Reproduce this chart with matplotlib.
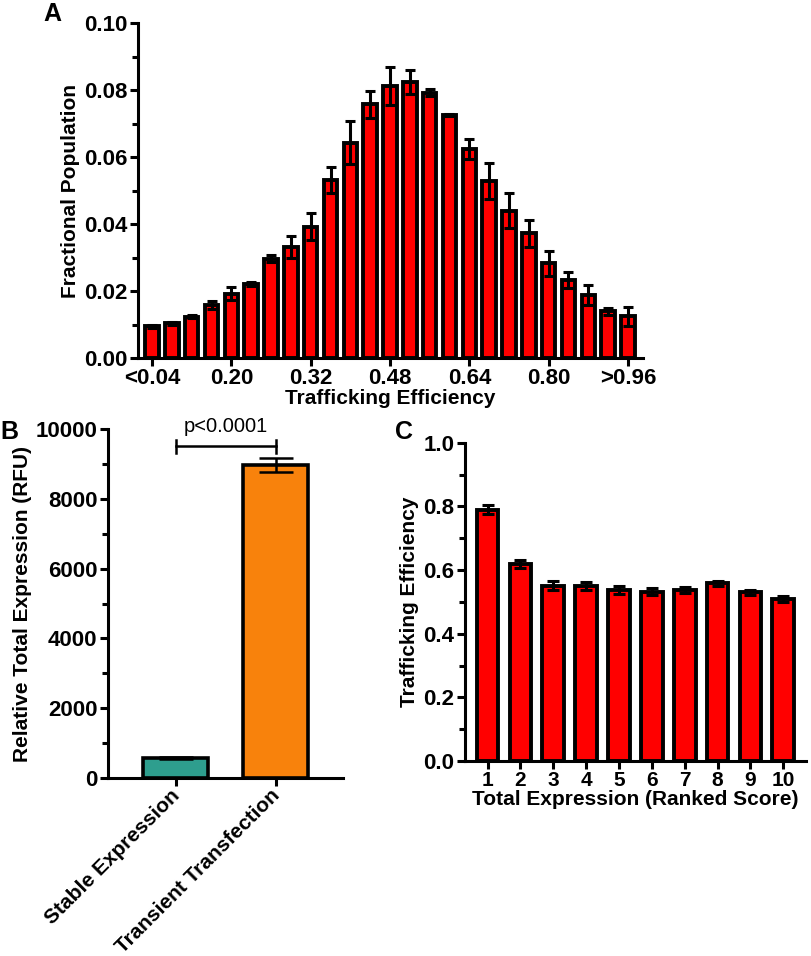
import matplotlib
matplotlib.use("Agg")
import matplotlib.pyplot as plt
import matplotlib.transforms as mtransforms
import numpy as np

plt.rcParams['font.family'] = ['Liberation Sans', 'DejaVu Sans']
plt.rcParams['font.weight'] = 'bold'

# ---- Panel A data ----
a_values = [0.0095, 0.0103, 0.0123, 0.0158, 0.0192, 0.0221, 0.0296, 0.0332, 0.0392,
            0.0531, 0.0643, 0.0757, 0.0812, 0.0823, 0.0792, 0.0725, 0.0624, 0.0528,
            0.0440, 0.0372, 0.0283, 0.0233, 0.0188, 0.0139, 0.0124]
a_errors = [0.0005, 0.0005, 0.0004, 0.0011, 0.0020, 0.0005, 0.0010, 0.0033, 0.0040,
            0.0038, 0.0065, 0.0041, 0.0056, 0.0036, 0.0010, 0.0002, 0.0029, 0.0053,
            0.0052, 0.0040, 0.0037, 0.0024, 0.0031, 0.0010, 0.0029]
a_tick_idx = [0, 4, 8, 12, 16, 20, 24]
a_tick_labels = ['<0.04', '0.20', '0.32', '0.48', '0.64', '0.80', '>0.96']

# ---- Panel B data ----
b_categories = ['Stable Expression', 'Transient Transfection']
b_values = [570, 8980]
b_errors = [30, 210]
b_colors = ['#2E9E8E', '#F8820C']

# ---- Panel C data ----
c_categories = ['1', '2', '3', '4', '5', '6', '7', '8', '9', '10']
c_values = [0.790, 0.618, 0.551, 0.550, 0.538, 0.531, 0.537, 0.558, 0.530, 0.510]
c_errors = [0.014, 0.013, 0.015, 0.013, 0.012, 0.011, 0.010, 0.009, 0.007, 0.009]

W, H = 812, 956
fig = plt.figure(figsize=(W / 100, H / 100), dpi=100)

TICK_FS = 16
LABEL_FS = 15

def ax_at(l, r, b, t):
    return fig.add_axes([l / W, 1 - b / H, (r - l) / W, (b - t) / H])

def style(ax, fs=TICK_FS):
    for s in ['top', 'right']:
        ax.spines[s].set_visible(False)
    for s in ['left', 'bottom']:
        ax.spines[s].set_linewidth(2.2)
    ax.tick_params(axis='both', width=2.2, length=6, labelsize=fs, pad=1.5)
    ax.tick_params(axis='y', which='minor', width=2.2, length=4)
    for lab in ax.get_xticklabels() + ax.get_yticklabels():
        lab.set_fontweight('bold')

# ---- Panel A ----
axA = ax_at(138, 643, 358, 23)
xa = np.arange(len(a_values))
axA.bar(xa, a_values, width=0.68, color='#FF0000', edgecolor='black', linewidth=2.8,
        yerr=a_errors, error_kw=dict(ecolor='black', elinewidth=2.2, capsize=3.5, capthick=2.2))
axA.set_xlim(-0.71, 24.76)
axA.set_ylim(0, 0.10)
axA.set_yticks([0.00, 0.02, 0.04, 0.06, 0.08, 0.10])
axA.set_yticklabels(['0.00', '0.02', '0.04', '0.06', '0.08', '0.10'])
axA.set_yticks(np.arange(0.01, 0.10, 0.02), minor=True)
axA.set_xticks(a_tick_idx)
axA.set_xticklabels(a_tick_labels)
axA.set_ylabel('Fractional Population', fontsize=LABEL_FS, fontweight='bold', labelpad=3)
axA.set_xlabel('Trafficking Efficiency', fontsize=LABEL_FS, fontweight='bold', labelpad=0)
style(axA)

# ---- Panel B ----
axB = ax_at(108, 343, 777.7, 429.3)
xb = np.arange(len(b_values))
axB.bar(xb, b_values, width=0.65, color=b_colors, edgecolor='black', linewidth=2.6,
        yerr=b_errors, error_kw=dict(ecolor='black', elinewidth=1.8, capsize=12, capthick=1.8))
axB.set_xlim(-0.68, 1.67)
axB.set_ylim(0, 10000)
axB.set_yticks([0, 2000, 4000, 6000, 8000, 10000])
axB.set_yticks([1000, 3000, 5000, 7000, 9000], minor=True)
axB.set_xticks(xb)
axB.set_xticklabels(b_categories, rotation=45, ha='right', rotation_mode='anchor')
axB.set_ylabel('Relative Total Expression (RFU)', fontsize=LABEL_FS, fontweight='bold', labelpad=3)
style(axB)
shift = mtransforms.ScaledTranslation(-6 / 100, 2 / 100, fig.dpi_scale_trans)
for lab in axB.get_xticklabels():
    lab.set_fontsize(LABEL_FS)
    lab.set_transform(lab.get_transform() + shift)
# significance bracket
yb = 9510
axB.plot([0, 1], [yb, yb], color='black', lw=1.8)
axB.plot([0, 0], [yb - 190, yb + 190], color='black', lw=1.8)
axB.plot([1, 1], [yb - 190, yb + 190], color='black', lw=1.8)
axB.text(0.5, 9800, 'p<0.0001', ha='center', va='bottom', fontsize=14.5, fontweight='normal')

# ---- Panel C ----
axC = ax_at(465, 806, 761, 442.7)
xc = np.arange(1, len(c_values) + 1)
axC.bar(xc, c_values, width=0.66, color='#FF0000', edgecolor='black', linewidth=2.8,
        yerr=c_errors, error_kw=dict(ecolor='black', elinewidth=2.2, capsize=4, capthick=2.2))
axC.set_xlim(0.314, 10.69)
axC.set_ylim(0, 1.0)
axC.set_yticks([0.0, 0.2, 0.4, 0.6, 0.8, 1.0])
axC.set_yticklabels(['0.0', '0.2', '0.4', '0.6', '0.8', '1.0'])
axC.set_yticks([0.1, 0.3, 0.5, 0.7, 0.9], minor=True)
axC.set_xticks(xc)
axC.set_xticklabels(c_categories)
axC.set_ylabel('Trafficking Efficiency', fontsize=LABEL_FS, fontweight='bold', labelpad=3)
axC.set_xlabel('Total Expression (Ranked Score)', fontsize=LABEL_FS, fontweight='bold', labelpad=0)
style(axC)
axC.tick_params(axis='x', labelsize=15, pad=1)

# panel letters
fig.text(52 / W, 1 - 14 / H, 'A', fontsize=18, fontweight='bold', ha='center', va='center')
fig.text(9 / W, 1 - 432 / H, 'B', fontsize=18, fontweight='bold', ha='center', va='center')
fig.text(404 / W, 1 - 432 / H, 'C', fontsize=18, fontweight='bold', ha='center', va='center')

fig.savefig('out.png', dpi=100)
